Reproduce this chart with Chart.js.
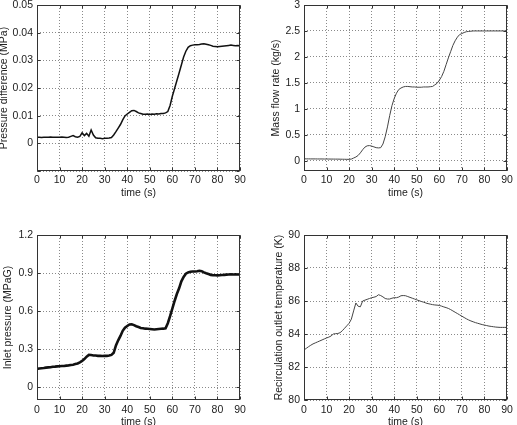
<!DOCTYPE html>
<html><head><meta charset="utf-8">
<script src="https://cdn.jsdelivr.net/npm/chart.js@4.4.0/dist/chart.umd.min.js"></script>
<style>
html,body{margin:0;padding:0;background:#fff;width:517px;height:425px;overflow:hidden;position:relative}
canvas{position:absolute}
</style></head><body>
<canvas id="c1"></canvas><canvas id="c2"></canvas><canvas id="c3"></canvas><canvas id="c4"></canvas>
<script>
const time = [0,1,2,3,4,5,6,7,8,9,10,11,12,13,14,15,16,17,18,19,20,21,22,23,24,25,26,27,28,29,30,31,32,33,34,35,36,37,38,39,40,41,42,43,44,45,46,47,48,49,50,51,52,53,54,55,56,57,58,59,60,61,62,63,64,65,66,67,68,69,70,71,72,73,74,75,76,77,78,79,80,81,82,83,84,85,86,87,88,89,90];

const pressureDiff = [0.0022,0.0022,0.0021,0.0022,0.0022,0.0022,0.0023,0.0022,0.0022,0.0022,
 0.0022,0.0023,0.0022,0.0021,0.0022,0.0025,0.0028,0.0024,0.0022,0.0025,
 0.0038,0.0028,0.0036,0.0026,0.0048,0.0030,0.0020,0.0018,0.0018,0.0017,
 0.0018,0.0018,0.0019,0.0021,0.0030,0.0042,0.0055,0.0068,0.0085,0.0099,
 0.0106,0.0112,0.0118,0.0119,0.0115,0.0110,0.0108,0.0105,0.0105,0.0106,
 0.0104,0.0106,0.0105,0.0107,0.0106,0.0108,0.0108,0.0110,0.0115,0.0137,
 0.0170,0.0198,0.0226,0.0254,0.0283,0.0312,0.0333,0.0347,0.0353,0.0355,
 0.0356,0.0356,0.0357,0.0359,0.0360,0.0358,0.0356,0.0354,0.0351,0.0350,
 0.0349,0.0350,0.0351,0.0352,0.0353,0.0354,0.0355,0.0354,0.0353,0.0354,
 0.0353];

const massFlow = [0.035,0.034,0.034,0.033,0.033,0.033,0.032,0.032,0.032,0.031,
 0.031,0.031,0.030,0.030,0.029,0.029,0.028,0.027,0.026,0.025,
 0.025,0.030,0.050,0.070,0.100,0.150,0.210,0.260,0.285,0.290,
 0.280,0.265,0.250,0.245,0.250,0.320,0.460,0.650,0.870,1.060,
 1.200,1.300,1.370,1.400,1.420,1.430,1.430,1.425,1.420,1.420,
 1.415,1.415,1.415,1.420,1.420,1.420,1.425,1.430,1.460,1.490,
 1.550,1.620,1.720,1.850,1.980,2.100,2.220,2.310,2.380,2.430,
 2.450,2.470,2.485,2.490,2.495,2.500,2.500,2.500,2.500,2.500,
 2.500,2.500,2.500,2.500,2.500,2.500,2.500,2.500,2.500,2.500,
 2.500];

const inletPressure = [0.145,0.148,0.150,0.152,0.155,0.157,0.158,0.162,0.163,0.165,
 0.166,0.168,0.168,0.171,0.173,0.176,0.178,0.183,0.188,0.197,
 0.208,0.222,0.242,0.255,0.254,0.251,0.250,0.248,0.249,0.247,
 0.248,0.248,0.250,0.255,0.272,0.330,0.370,0.405,0.445,0.470,
 0.483,0.495,0.497,0.490,0.481,0.475,0.468,0.465,0.462,0.461,
 0.459,0.457,0.455,0.458,0.460,0.461,0.462,0.465,0.505,0.560,
 0.620,0.680,0.735,0.780,0.835,0.870,0.895,0.905,0.910,0.912,
 0.913,0.915,0.918,0.915,0.905,0.898,0.892,0.886,0.884,0.883,
 0.882,0.883,0.885,0.886,0.888,0.889,0.890,0.889,0.890,0.889,
 0.889];

const outletTemp = [83.03,83.13,83.23,83.32,83.40,83.46,83.52,83.58,83.64,83.70,
 83.76,83.81,83.88,84.00,84.02,84.03,84.08,84.20,84.35,84.50,
 84.65,84.90,85.40,85.88,85.68,85.65,86.00,86.05,86.10,86.15,
 86.20,86.23,86.27,86.38,86.33,86.25,86.15,86.12,86.12,86.17,
 86.20,86.20,86.24,86.32,86.33,86.32,86.27,86.22,86.17,86.12,
 86.07,86.02,85.97,85.93,85.88,85.84,85.81,85.78,85.76,85.75,
 85.73,85.69,85.64,85.60,85.55,85.48,85.40,85.32,85.24,85.16,
 85.08,85.00,84.92,84.85,84.79,84.74,84.69,84.65,84.61,84.57,
 84.54,84.51,84.48,84.46,84.44,84.42,84.41,84.40,84.40,84.40,
 84.40];

const FONT = {family:"'Liberation Sans', Arial, sans-serif", size:10.5};
const LH = FONT.size*1.2;
const TXT = '#222';
const FRAME = '#333';

const framePlugin = {
  id:'frame',
  afterDraw(chart){
    const {ctx, chartArea:a, scales:{x,y}} = chart;
    const l=Math.round(a.left)+0.5, r=Math.round(a.right)-0.5, t=Math.round(a.top)+0.5, b=Math.round(a.bottom)-0.5;
    ctx.save();
    ctx.strokeStyle=FRAME; ctx.lineWidth=1;
    ctx.beginPath();
    x.ticks.forEach(tk=>{const p=Math.round(x.getPixelForValue(tk.value))+0.5;
      ctx.moveTo(p,b); ctx.lineTo(p,b-3); ctx.moveTo(p,t); ctx.lineTo(p,t+3);});
    y.ticks.forEach(tk=>{const p=Math.round(y.getPixelForValue(tk.value))+0.5;
      ctx.moveTo(l,p); ctx.lineTo(l+3,p); ctx.moveTo(r,p); ctx.lineTo(r-3,p);});
    ctx.stroke();
    ctx.strokeRect(l,t,r-l,b-t);
    ctx.restore();
  }
};

function fmt(v){ return v < -1e-9 ? '' : String(+v.toFixed(4)); }

function panel(id, area, o){
  const {L,T,R,B} = area;
  const cl=L-60, ct=T-15, cr=R+15, cb=o.xTitleY+12;
  const cv=document.getElementById(id);
  cv.style.left=cl+'px'; cv.style.top=ct+'px';
  cv.width=cr-cl; cv.height=cb-ct;
  new Chart(cv,{
    type:'line',
    data:{datasets:[{data:time.map((t,i)=>({x:t,y:o.values[i]})), borderColor:o.color, borderWidth:o.lw,
      pointRadius:0, tension:0, fill:false}]},
    options:{
      responsive:false, animation:false, events:[],
      layout:{padding:{left:0,top:15,right:15,bottom:0}},
      plugins:{legend:{display:false}, tooltip:{enabled:false}},
      scales:{
        x:{type:'linear', min:0, max:90,
          ticks:{stepSize:10, padding:o.xTickPad, color:TXT, font:FONT, maxRotation:0, autoSkip:false, callback:fmt},
          grid:{color:'#8a8a8a', drawTicks:false, lineWidth:1},
          border:{display:false, dash:[1,2]},
          title:{display:true, text:'time (s)', color:TXT, font:FONT, padding:{top:0,bottom:12-LH/2}},
          afterFit(s){ s.height = cb - B; }},
        y:{type:'linear', min:o.min, max:o.max,
          ticks:{stepSize:o.step, includeBounds:false, padding:4, color:TXT, font:FONT, callback:fmt},
          grid:{color:'#8a8a8a', drawTicks:false, lineWidth:1},
          border:{display:false, dash:[1,2]},
          title:{display:true, text:o.yTitle, color:TXT, font:FONT, padding:{top:o.yTitleX-cl-LH/2,bottom:0}},
          afterFit(s){ s.width = 60; }}
      }
    },
    plugins:[framePlugin]
  });
}

panel('c1',{L:37,T:5,R:240,B:171},{values:pressureDiff,color:'#111',lw:1.5,min:-0.01,max:0.05,step:0.01,
  yTitle:'Pressure difference (MPa)',yTitleX:4,xTitleY:193,xTickPad:3});
panel('c2',{L:304,T:5,R:507,B:171},{values:massFlow,color:'#444',lw:1,min:-0.2,max:3,step:0.5,
  yTitle:'Mass flow rate (kg/s)',yTitleX:276,xTitleY:193,xTickPad:3});
panel('c3',{L:37,T:235,R:240,B:400},{values:inletPressure,color:'#111',lw:2.6,min:-0.1,max:1.2,step:0.3,
  yTitle:'Inlet pressure (MPaG)',yTitleX:8.5,xTitleY:422,xTickPad:3.8});
panel('c4',{L:304,T:235,R:507,B:400},{values:outletTemp,color:'#444',lw:1,min:80,max:90,step:2,
  yTitle:'Recirculation outlet temperature (K)',yTitleX:279,xTitleY:422,xTickPad:3.8});
</script>
</body></html>
